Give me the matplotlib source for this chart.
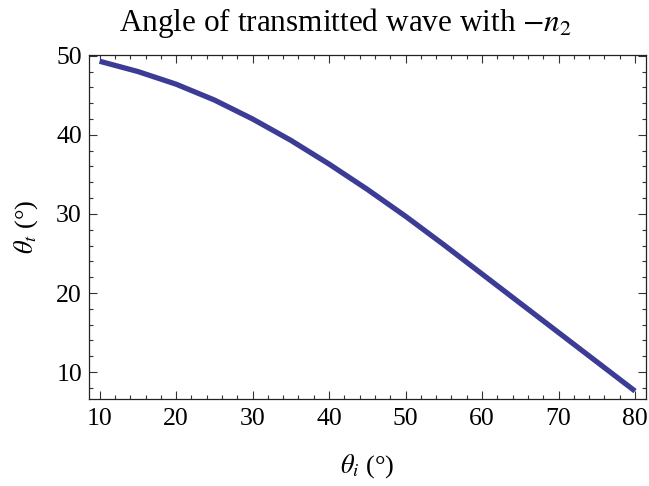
import numpy as np
import matplotlib.pyplot as plt
from matplotlib.ticker import MultipleLocator

plt.rcParams["font.family"] = ["Liberation Serif", "DejaVu Serif"]
plt.rcParams["mathtext.fontset"] = "stix"

# incidence angle (deg) and transmitted angle (deg)
theta_i = [10, 15, 20, 25, 30, 35, 40, 45, 50, 55, 60, 65, 70, 75, 80]
theta_t = [49.3, 48.0, 46.4, 44.4, 42.0, 39.3, 36.3, 33.1, 29.7, 26.1, 22.4, 18.7, 15.0, 11.3, 7.6]

x_ticks = [10, 20, 30, 40, 50, 60, 70, 80]
y_ticks = [10, 20, 30, 40, 50]

fig = plt.figure(figsize=(6.49, 4.86), dpi=100)
ax = fig.add_axes([0.137, 0.180, 0.858, 0.707])

ax.plot(theta_i, theta_t, color='#3c3c96', linewidth=3.8,
        solid_capstyle='butt', solid_joinstyle='round')

ax.set_xlim(8.6, 81.4)
ax.set_ylim(6.66, 50.1)
ax.set_xticks(x_ticks)
ax.set_yticks(y_ticks)
ax.xaxis.set_minor_locator(MultipleLocator(2))
ax.yaxis.set_minor_locator(MultipleLocator(2))
ax.tick_params(which='both', direction='in', top=True, right=True,
               color='#333333', width=0.8, labelsize=18.5)
ax.tick_params(axis='x', pad=7)
ax.tick_params(axis='y', pad=5)
ax.tick_params(which='major', length=5.5)
ax.tick_params(which='minor', length=3)
for s in ax.spines.values():
    s.set_color('#222222')
    s.set_linewidth(0.9)

# title centred over the whole plot incl. tick labels, as in the original
fig.text(0.532, 0.952, r'Angle of transmitted wave with $-n_2$',
         fontsize=22.5, ha='center', va='center')
ax.set_xlabel(r'$\theta_i$ (°)', fontsize=19, labelpad=16)
ax.set_ylabel(r'$\theta_t$ (°)', fontsize=19, labelpad=12)

plt.savefig('out.png', dpi=100)
plt.close()
